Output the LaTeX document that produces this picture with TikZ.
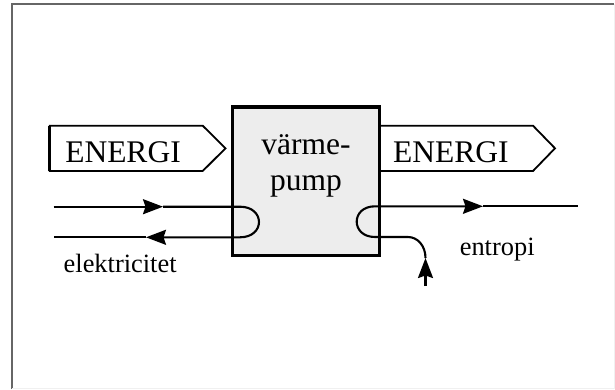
\documentclass[tikz,border=0pt]{standalone}
\usepackage{fontspec}
\setmainfont{Liberation Serif}
\usetikzlibrary{arrows.meta}

\begin{document}
\begin{tikzpicture}[x=1pt,y=-1pt,>={Stealth[length=20pt,width=15pt,inset=2.5pt]},line join=miter]
\tikzset{
  flow/.style={line width=2.1pt,black},
  energi/.style={line width=1.8pt,black,fill=white},
  bigtxt/.style={inner sep=0pt,font=\fontsize{31.5}{36}\selectfont},
  smalltxt/.style={inner sep=0pt,font=\fontsize{26.4}{30}\selectfont},
  pumpbox/.style={draw,line width=2.3pt,fill=gray!14,minimum width=147pt,minimum height=148pt,inner sep=0pt}
}
\useasboundingbox (0,0) rectangle (615,389);
% frame
\draw[line width=1.8pt,gray!80!black] (11.7,389) -- (11.7,4.3) -- (614,4.3);
\draw[gray!12] (614,4.3) -- (614,388) -- (11.7,388);
% energy arrows
\draw[energi] (49.8,125.7) -- (202.7,125.7) -- (225.5,148.3) -- (202.7,171) -- (49.8,171) -- cycle;
\draw[line width=2.8pt] (49.8,125.7) -- (49.8,171);
\draw[energi] (380,125.7) -- (533,125.7) -- (555,148.3) -- (533,171) -- (380,171) -- cycle;
\node[bigtxt,anchor=base] (ein) at (123,162.3) {ENERGI};
\node[bigtxt,anchor=base] (eout) at (450.8,162.3) {ENERGI};
% heat pump
\node[pumpbox] (pump) at (306,181.5) {};
\draw[line width=3.4pt] (pump.north west) -- (pump.north east);
\node[bigtxt,align=center,anchor=north] (pumptxt) at (306,134) {värme-\\pump};
% electricity loop
\coordinate (elin) at (53.7,206.7);
\coordinate (elup) at (163,206.7);
\coordinate (elturn) at (240,206.7);
\coordinate (elback) at (240,237.3);
\coordinate (eldown) at (146,237.3);
\coordinate (elout) at (53.7,237.3);
\draw[flow,->] (elin) -- (elup);
\draw[flow,->] (elup) -- (elturn) .. controls (265.3,206.7) and (265.3,237.3) .. (elback) -- (eldown);
\draw[flow] (eldown) -- (elout);
% entropy
\coordinate (enin) at (425.5,286);
\coordinate (enup) at (425.5,258);
\coordinate (enbend) at (408,237);
\coordinate (enturn) at (375,237);
\coordinate (enback) at (375,206.3);
\coordinate (enright) at (483,206.3);
\coordinate (enout) at (578.4,206.3);
\draw[flow,->] (enin) -- (enup);
\draw[flow,->] (enup) .. controls (425.5,246) and (417.7,237) .. (enbend) -- (enturn)
  .. controls (350.6,237) and (350.6,206.3) .. (enback) -- (enright);
\draw[flow] (enright) -- (enout);
% labels
\node[smalltxt,anchor=base west] (el) at (63.5,272.7) {elektricitet};
\node[smalltxt,anchor=base west] (ent) at (459.6,255) {entropi};
\end{tikzpicture}
\end{document}
